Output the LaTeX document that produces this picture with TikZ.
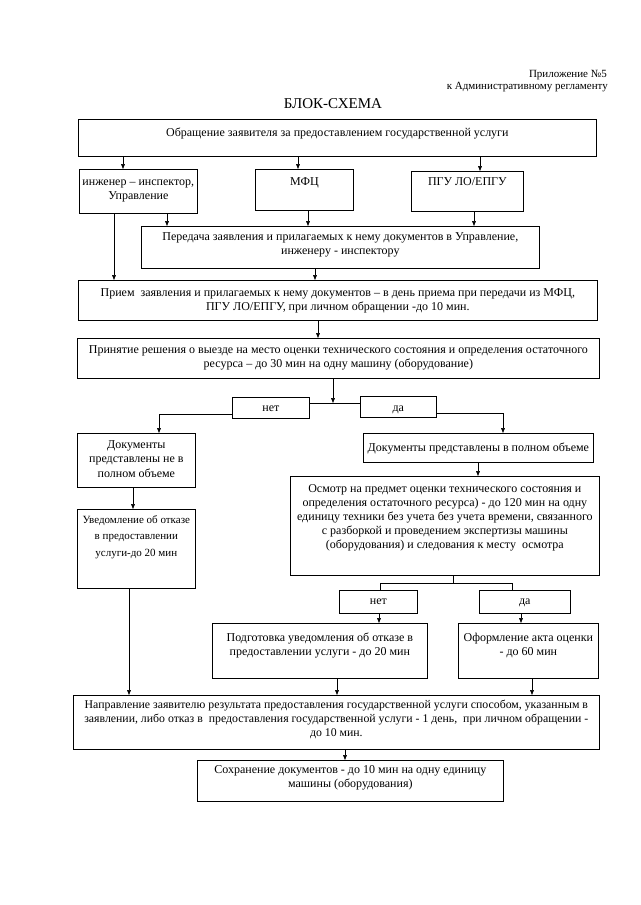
\documentclass[tikz,border=0pt]{standalone}
\usepackage{fontspec}
\setmainfont{Liberation Serif}
\usetikzlibrary{arrows.meta,calc}
\tikzset{
  arr/.style={-{Triangle[length=5pt,width=3.8pt]}, line width=0.6pt},
  ln/.style={line width=0.6pt},
  bx/.style={draw, line width=0.7pt, inner sep=0pt, anchor=north west},
}
\newcommand\bodyfont{\fontsize{12}{14}\selectfont}
% name, x1, y1, x2, y2, top pad, text
\newcommand\mybox[7]{%
  \node[bx] (#1) at (#2,#3) {\parbox[t][\dimexpr #5pt-#3pt\relax][t]{\dimexpr #4pt-#2pt\relax}{\vspace*{#6pt}\centering\bodyfont\leavevmode\strut #7\par}};}
% vertical arrow from node #1 to node #2 at x = #3
\newcommand\varr[3]{%
  \coordinate (x#3) at (#3,0);
  \draw[arr] (#1.south -| x#3) -- (#2.north -| x#3);}
\begin{document}
\begin{tikzpicture}[x=1pt,y=-1pt]
\useasboundingbox (0,0) rectangle (640,905);
\fill[white] (0,0) rectangle (640,905);

\node[anchor=base east, font=\fontsize{11}{12}\selectfont, inner sep=0pt] (h1) at (607,77) {Приложение №5};
\node[anchor=base east, font=\fontsize{11}{12}\selectfont, inner sep=0pt] (h2) at (608,89) {к Административному регламенту};
\node[anchor=base, font=\fontsize{15}{16}\selectfont, inner sep=0pt] (title) at (333,108.5) {БЛОК-СХЕМА};

\mybox{b1}{78}{119}{596}{156}{7}{Обращение заявителя за предоставлением государственной услуги}
\mybox{eng}{79}{169}{197}{213}{6}{инженер – инспектор,\\ Управление}
\mybox{mfc}{255}{169}{353}{210}{6}{МФЦ}
\mybox{pgu}{411}{171}{523}{211}{4}{ПГУ ЛО/ЕПГУ}
\mybox{pered}{141}{226}{539}{268}{4.5}{Передача заявления и прилагаемых к нему документов в Управление,\\ инженеру - инспектору}
\mybox{priem}{78}{280}{597}{320}{6.5}{Прием\ \ заявления и прилагаемых к нему документов – в день приема при передачи из МФЦ,\\ ПГУ ЛО/ЕПГУ, при личном обращении -до 10 мин.}
\mybox{dec}{77}{338}{599}{378}{5.5}{Принятие решения о выезде на место оценки технического состояния и определения остаточного\\ ресурса – до 30 мин на одну машину (оборудование)}
\mybox{no1}{232}{397}{309}{418}{4}{нет}
\mybox{yes1}{360}{396}{436}{417}{5}{да}
\mybox{docno}{77}{433}{195}{487}{5.5}{Документы\\ представлены не в\\ полном объеме\fontsize{12}{15}\selectfont}
\mybox{docyes}{363}{433}{593}{462}{8}{Документы представлены в полном объеме}
\mybox{notice}{77}{509}{195}{588}{4}{\fontsize{11}{16.5}\selectfont Уведомление об отказе\\ в предоставлении\\ услуги-до 20 мин}
\mybox{insp}{290}{476}{599}{575}{6}{Осмотр на предмет оценки технического состояния и\\ определения остаточного ресурса) - до 120 мин на одну\\ единицу техники без учета без учета времени, связанного\\ с разборкой и проведением экспертизы машины\\ (оборудования) и следования к месту\ \ осмотра}
\mybox{no2}{339}{590}{417}{613}{4.5}{нет}
\mybox{yes2}{479}{590}{570}{613}{4.5}{да}
\mybox{prep}{212}{623}{427}{678}{8.5}{Подготовка уведомления об отказе в\\ предоставлении услуги - до 20 мин}
\mybox{act}{458}{623}{598}{678}{8.5}{Оформление акта оценки\\ - до 60 мин}
\mybox{send}{73}{695}{599}{749}{3}{\fontsize{11.8}{14}\selectfont Направление заявителю результата предоставления государственной услуги способом, указанным в\\ заявлении, либо отказ в\ \ предоставления государственной услуги - 1 день,\ \ при личном обращении -\\ до 10 мин.}
\mybox{keep}{197}{760}{503}{801}{3.5}{Сохранение документов - до 10 мин на одну единицу\\ машины (оборудования)}

\varr{b1}{eng}{123}
\varr{b1}{mfc}{298}
\varr{b1}{pgu}{480}
\varr{eng}{pered}{167}
\varr{eng}{priem}{114}
\varr{mfc}{pered}{308}
\varr{pgu}{pered}{474}
\varr{pered}{priem}{315}
\varr{priem}{dec}{318}

\coordinate (j1) at (333,403);
\draw[ln] (no1.east |- j1) -- (yes1.west |- j1);
\draw[arr] (dec.south -| j1) -- (j1);
\coordinate (k1) at (159,414);
\draw[arr] (no1.west |- k1) -- (k1) -- (docno.north -| k1);
\coordinate (k2) at (503,413);
\draw[arr] (yes1.east |- k2) -- (k2) -- (docyes.north -| k2);

\varr{docno}{notice}{133}
\varr{docyes}{insp}{478}
\varr{notice}{send}{129}

\coordinate (j2) at (453,583);
\coordinate (j2l) at (380,583);
\coordinate (j2r) at (512,583);
\draw[ln] (insp.south -| j2) -- (j2);
\draw[ln] (no2.north -| j2l) -- (j2l) -- (j2r) -- (yes2.north -| j2r);

\varr{no2}{prep}{379}
\varr{yes2}{act}{521}
\varr{prep}{send}{337}
\varr{act}{send}{532}
\varr{send}{keep}{345}
\end{tikzpicture}
\end{document}
